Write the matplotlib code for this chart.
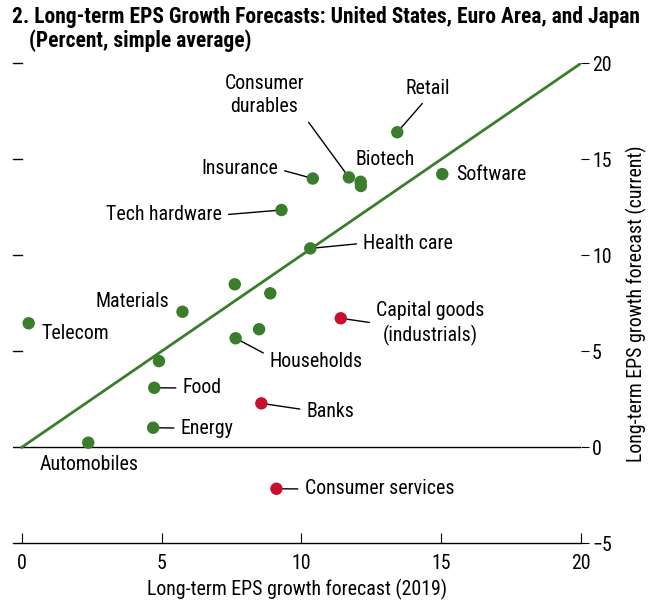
import matplotlib
matplotlib.use('Agg')
import matplotlib.pyplot as plt

plt.rcParams['font.family'] = ['Roboto Condensed', 'Archivo Narrow', 'DejaVu Sans']

# Daten: Sektor, EPS-Prognose 2019 (x), aktuelle Prognose (y)
sectors = ['Telecom', 'Materials', 'Sector A', 'Sector B', 'Sector C', 'Households', 'Sector D',
           'Food', 'Energy', 'Automobiles', 'Health care', 'Tech hardware', 'Insurance',
           'Consumer durables', 'Biotech', 'Biotech 2', 'Retail', 'Software']
eps_2019 = [0.25, 5.75, 7.62, 8.89, 4.91, 7.65, 8.49, 4.74, 4.70, 2.38, 10.32, 9.29, 10.41,
            11.70, 12.13, 12.12, 13.43, 15.04]
eps_current = [6.46, 7.06, 8.49, 8.02, 4.49, 5.68, 6.15, 3.10, 1.02, 0.24, 10.36, 12.36, 14.00,
               14.06, 13.61, 13.83, 16.41, 14.23]

# rot markierte Sektoren
red_sectors = ['Banks', 'Consumer services', 'Capital goods\n(industrials)']
red_2019 = [8.57, 9.11, 11.41]
red_current = [2.29, -2.16, 6.72]

green = '#3a7d2a'
red = '#c8102e'

fig = plt.figure(figsize=(6.55, 6.13), dpi=100)
ax = fig.add_axes([0.0203, 0.1137, 0.8667, 0.783])

ax.set_xlim(-0.3, 20)
ax.set_ylim(-5, 20)

ax.plot([0, 20], [0, 20], color=green, lw=2, zorder=2)
ax.axhline(0, color='black', lw=1, zorder=1)

ax.scatter(eps_2019, eps_current, s=80, color=green, zorder=4, edgecolors='none')
ax.scatter(red_2019, red_current, s=80, color=red, zorder=4, edgecolors='none')

fs = 14.3

# Beschriftungen mit Hinweislinien: (Name, Text, Textposition, ha, relpos)
all_x = dict(zip(sectors + red_sectors, eps_2019 + red_2019))
all_y = dict(zip(sectors + red_sectors, eps_current + red_current))

leaders = [
    ('Retail', 'Retail', (14.51, 18.71), 'center', (0.5, 0)),
    ('Consumer durables', 'Consumer\ndurables', (8.68, 18.35), 'center', (1, 0)),
    ('Insurance', 'Insurance', (9.16, 14.5), 'right', (1, 0.5)),
    ('Tech hardware', 'Tech hardware', (7.15, 12.1), 'right', (1, 0.5)),
    ('Health care', 'Health care', (12.22, 10.63), 'left', (0, 0.5)),
    ('Capital goods\n(industrials)', 'Capital goods\n(industrials)', (14.62, 6.45), 'center', (0, 0.5)),
    ('Households', 'Households', (8.87, 4.49), 'left', (0, 0.75)),
    ('Food', 'Food', (5.76, 3.09), 'left', (0, 0.5)),
    ('Energy', 'Energy', (5.69, 1.0), 'left', (0, 0.5)),
    ('Banks', 'Banks', (10.19, 1.84), 'left', (0, 0.6)),
    ('Consumer services', 'Consumer services', (10.12, -2.17), 'left', (0, 0.5)),
]
for key, txt, pos, ha, rp in leaders:
    ax.annotate(txt, xy=(all_x[key], all_y[key]), xytext=pos, ha=ha, va='center',
                fontsize=fs, multialignment='center', linespacing=1.3, zorder=3,
                arrowprops=dict(arrowstyle='-', color='black', lw=1, shrinkA=3, shrinkB=0,
                                relpos=rp))

plain = [
    ('Biotech', (13.01, 14.98), 'center'),
    ('Software', (15.55, 14.23), 'left'),
    ('Materials', (5.26, 7.62), 'right'),
    ('Telecom', (0.69, 5.95), 'left'),
    ('Automobiles', (0.65, -0.92), 'left'),
]
for txt, pos, ha in plain:
    ax.text(pos[0], pos[1], txt, ha=ha, va='center', fontsize=fs)

for s in ['left', 'right', 'top']:
    ax.spines[s].set_visible(False)
ax.spines['bottom'].set_linewidth(1)

ax.set_xticks([0, 5, 10, 15, 20])
ax.tick_params(axis='x', direction='in', length=7, labelsize=fs, pad=8)
ax.set_yticks([-5, 0, 5, 10, 15, 20])
ax.tick_params(axis='y', which='both', direction='out', length=6, labelsize=fs,
               left=False, labelleft=False, right=True, labelright=True, pad=2)
# linke Markierungen ohne Beschriftung
for yv in [5, 10, 15, 20]:
    ax.plot([-0.3, 0.0], [yv, yv], color='black', lw=1, clip_on=False)

ax.set_xlabel('Long-term EPS growth forecast (2019)', fontsize=fs, labelpad=4)
ax.yaxis.set_label_position('right')
ax.set_ylabel('Long-term EPS growth forecast (current)', fontsize=fs, labelpad=10)

fig.text(0.018, 0.972, '2. Long-term EPS Growth Forecasts: United States, Euro Area, and Japan',
         fontsize=15.5, fontweight='bold', va='center', ha='left')
fig.text(0.045, 0.934, '(Percent, simple average)', fontsize=15.5, fontweight='bold',
         va='center', ha='left')

fig.savefig('out.png', dpi=100)
